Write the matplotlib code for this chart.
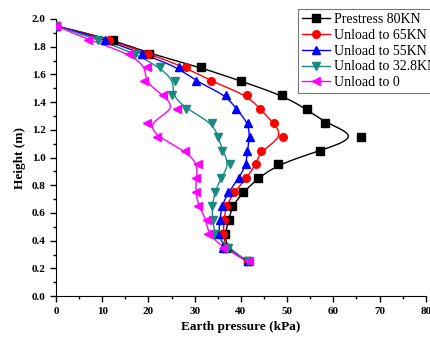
import numpy as np
import matplotlib
matplotlib.use("Agg")
import matplotlib.pyplot as plt
from matplotlib.ticker import MultipleLocator

heights = [1.95, 1.85, 1.75, 1.65, 1.55, 1.45, 1.35, 1.25, 1.15, 1.05,
           0.95, 0.85, 0.75, 0.65, 0.55, 0.45, 0.35, 0.25]

prestress_80 = [0, 12.3, 20.2, 31.3, 40.1, 48.8, 54.2, 58.2, 66.0, 57.1,
                48.0, 43.7, 40.5, 38.1, 37.4, 36.5, 36.8, 41.5]
unload_65 = [0, 11.5, 19.8, 28.1, 33.5, 41.4, 44.1, 47.1, 49.2, 44.3,
             43.2, 41.2, 38.5, 36.8, 36.3, 36.2, 36.5, 41.5]
unload_55 = [0, 10.6, 18.5, 26.5, 30.2, 36.8, 39.0, 41.6, 41.9, 41.4,
             41.2, 39.5, 37.3, 35.8, 35.5, 35.1, 36.2, 41.5]
unload_328 = [0, 9.0, 17.1, 22.4, 25.7, 25.0, 28.2, 33.8, 35.1, 36.0,
              37.6, 35.6, 34.4, 33.7, 33.9, 34.2, 37.3, 41.5]
unload_0 = [0, 7.0, 15.8, 19.7, 19.0, 23.2, 26.1, 19.7, 21.9, 27.9,
            30.8, 30.3, 30.2, 30.8, 32.6, 32.8, 36.1, 41.8]

labels = ["Prestress 80KN", "Unload to 65KN", "Unload to 55KN",
          "Unload to 32.8KN", "Unload to 0"]
series = [prestress_80, unload_65, unload_55, unload_328, unload_0]
colors = ["#000000", "#ff0000", "#0000ff", "#1a8a80", "#ff00ff"]
markers = ["s", "o", "^", "v", "<"]


def bspline(xs, ys, n=30):
    P = np.column_stack([xs, ys]).astype(float)
    P = np.vstack([P[0], P[0], P, P[-1], P[-1]])
    M = np.array([[-1, 3, -3, 1], [3, -6, 3, 0], [-3, 0, 3, 0], [1, 4, 1, 0]]) / 6.0
    out = []
    t = np.linspace(0, 1, n)
    T = np.column_stack([t**3, t**2, t, np.ones_like(t)])
    for i in range(len(P) - 3):
        G = P[i:i + 4]
        out.append(T @ M @ G)
    out = np.vstack(out)
    return out[:, 0], out[:, 1]


plt.rcParams['font.family'] = ['Liberation Serif', 'DejaVu Serif']
fig = plt.figure(figsize=(4.31, 3.38), dpi=100)
ax = fig.add_axes([0.130, 0.124, 0.858, 0.820])

handles = []
for vals, lab, c, m in zip(series, labels, colors, markers):
    sx, sy = bspline(vals, heights)
    ax.plot(sx, sy, color=c, lw=1.0, zorder=2)
    ax.plot(vals, heights, linestyle='none', marker=m, color=c, ms=5.5, zorder=3)
    h, = ax.plot([], [], color=c, lw=1.0, marker=m, ms=5.5, label=lab)
    handles.append(h)

ax.set_xlim(0, 80)
ax.set_ylim(0, 2.0)
ax.xaxis.set_major_locator(MultipleLocator(10))
ax.xaxis.set_minor_locator(MultipleLocator(5))
ax.yaxis.set_major_locator(MultipleLocator(0.2))
ax.yaxis.set_minor_locator(MultipleLocator(0.1))
ax.yaxis.set_major_formatter(matplotlib.ticker.FormatStrFormatter('%.1f'))
ax.spines['top'].set_visible(False)
ax.spines['right'].set_visible(False)
ax.tick_params(which='major', direction='out', length=4, width=1, labelsize=8)
ax.tick_params(which='minor', direction='out', length=2, width=1)
for lbl in ax.get_xticklabels() + ax.get_yticklabels():
    lbl.set_fontweight('bold')
ax.set_xlabel("Earth pressure (kPa)", fontsize=9.5, fontweight='bold')
ax.set_ylabel("Height (m)", fontsize=9.5, fontweight='bold')

leg = fig.legend(handles=handles, loc='upper left', bbox_to_anchor=(298 / 431, 1 - 9 / 338),
                 fontsize=10, frameon=True, fancybox=False, edgecolor='#555555',
                 handlelength=2.0, handletextpad=0.3, borderpad=0.3, labelspacing=0.2,
                 borderaxespad=0)
leg.get_frame().set_linewidth(0.8)

fig.savefig("out.png", dpi=100)
